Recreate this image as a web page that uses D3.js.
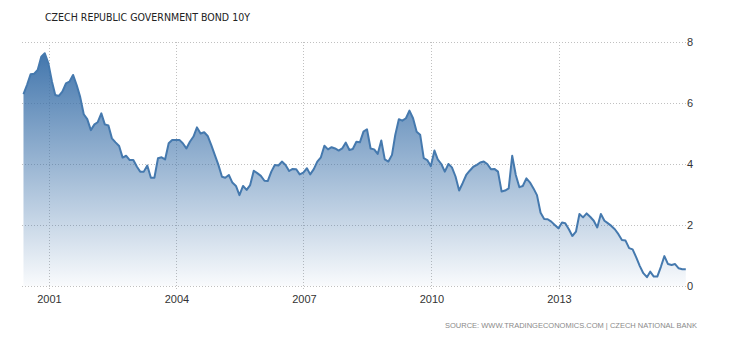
<!DOCTYPE html>
<html>
<head>
<meta charset="utf-8">
<script src="https://cdn.jsdelivr.net/npm/d3@7"></script>
<style>
  body { margin: 0; background: #fff; }
  svg { display: block; }
</style>
</head>
<body>
<div id="chart"></div>
<script>
// chart data (monthly, month end, May 2000 .. Dec 2015)
var title = "CZECH REPUBLIC GOVERNMENT BOND 10Y";
var source = "SOURCE: WWW.TRADINGECONOMICS.COM | CZECH NATIONAL BANK";
var firstMonth = [2000, 4]; // May 2000
var yields = [
  6.29, 6.59, 6.94, 6.96, 7.08, 7.52, 7.63, 7.30, 6.70, 6.26,
  6.23, 6.37, 6.64, 6.70, 6.92, 6.59, 6.20, 5.63, 5.47, 5.11,
  5.30, 5.37, 5.66, 5.30, 5.26, 4.84, 4.71, 4.59, 4.21, 4.27,
  4.13, 4.13, 3.91, 3.75, 3.75, 3.95, 3.55, 3.55, 4.19, 4.22,
  4.15, 4.68, 4.79, 4.79, 4.79, 4.68, 4.51, 4.73, 4.90, 5.20,
  5.00, 5.04, 4.92, 4.62, 4.30, 3.97, 3.58, 3.55, 3.64, 3.39,
  3.28, 2.98, 3.28, 3.15, 3.31, 3.78, 3.70, 3.61, 3.45, 3.44,
  3.75, 3.97, 3.95, 4.08, 3.97, 3.77, 3.84, 3.83, 3.66, 3.72,
  3.86, 3.66, 3.83, 4.08, 4.22, 4.60, 4.48, 4.55, 4.51, 4.44,
  4.51, 4.70, 4.46, 4.49, 4.73, 4.71, 5.06, 5.14, 4.51, 4.48,
  4.33, 4.77, 4.15, 4.08, 4.30, 4.95, 5.47, 5.42, 5.50, 5.75,
  5.50, 5.06, 4.96, 4.19, 4.13, 3.93, 4.44, 4.15, 4.00, 3.75,
  4.00, 3.89, 3.59, 3.13, 3.37, 3.64, 3.78, 3.91, 3.97, 4.05,
  4.08, 4.00, 3.83, 3.84, 3.75, 3.10, 3.13, 3.20, 4.27, 3.64,
  3.24, 3.28, 3.53, 3.40, 3.20, 2.98, 2.40, 2.20, 2.19, 2.11,
  2.00, 1.89, 2.08, 2.06, 1.86, 1.64, 1.78, 2.36, 2.25, 2.38,
  2.27, 2.14, 1.92, 2.36, 2.14, 2.06, 1.97, 1.86, 1.70, 1.51,
  1.49, 1.24, 1.20, 0.94, 0.66, 0.42, 0.29, 0.47, 0.31, 0.31,
  0.63, 0.98, 0.72, 0.69, 0.72, 0.58, 0.55, 0.55
];
var yTicks = [0, 2, 4, 6, 8];
var xTickYears = [2001, 2004, 2007, 2010, 2013];

var width = 730, height = 340;
var plotLeft = 22, plotRight = 686, plotTop = 42, plotBottom = 286;

var data = yields.map(function(v, i) {
  // last day of each month
  var d = d3.timeDay.offset(new Date(firstMonth[0], firstMonth[1] + i + 1, 1), -1);
  return { date: d, value: v };
});

var svg = d3.select('#chart').append('svg')
    .attr('width', width)
    .attr('height', height);

var x = d3.scaleTime()
    .domain([new Date(2001, 0, 1), new Date(2013, 0, 1)])
    .range([48.5, 558.5]);

var y = d3.scaleLinear()
    .domain([0, 8])
    .range([plotBottom, plotTop]);

var defs = svg.append('defs');
var grad = defs.append('linearGradient')
    .attr('id', 'fillGrad')
    .attr('gradientUnits', 'userSpaceOnUse')
    .attr('x1', 0).attr('y1', plotTop)
    .attr('x2', 0).attr('y2', plotBottom);
grad.append('stop').attr('offset', '0%').attr('stop-color', '#3a70a9').attr('stop-opacity', 1);
grad.append('stop').attr('offset', '100%').attr('stop-color', '#3a70a9').attr('stop-opacity', 0.03);

// horizontal grid
svg.append('g')
    .selectAll('line')
    .data(yTicks)
    .enter().append('line')
    .attr('x1', plotLeft).attr('x2', plotRight)
    .attr('y1', function(d) { return Math.round(y(d)) + 0.5; })
    .attr('y2', function(d) { return Math.round(y(d)) + 0.5; })
    .attr('stroke', '#c0c0c0')
    .attr('stroke-dasharray', '1,2');

// vertical grid
svg.append('g')
    .selectAll('line')
    .data(xTickYears)
    .enter().append('line')
    .attr('x1', function(d) { return Math.round(x(new Date(d, 0, 1))) + 0.5; })
    .attr('x2', function(d) { return Math.round(x(new Date(d, 0, 1))) + 0.5; })
    .attr('y1', plotTop).attr('y2', plotBottom + 5)
    .attr('stroke', '#c0c0c0')
    .attr('stroke-dasharray', '1,2');

var area = d3.area()
    .x(function(d) { return x(d.date); })
    .y0(y(0))
    .y1(function(d) { return y(d.value); });

var line = d3.line()
    .x(function(d) { return x(d.date); })
    .y(function(d) { return y(d.value); });

svg.append('path')
    .datum(data)
    .attr('d', area)
    .attr('fill', 'url(#fillGrad)');

svg.append('path')
    .datum(data)
    .attr('d', line)
    .attr('fill', 'none')
    .attr('stroke', '#4579ae')
    .attr('stroke-width', 2)
    .attr('stroke-linejoin', 'round');

// y labels on the right
svg.append('g')
    .selectAll('text')
    .data(yTicks)
    .enter().append('text')
    .attr('x', plotRight + 1)
    .attr('y', function(d) { return y(d) + 4; })
    .attr('font-family', 'Liberation Sans, Arial, sans-serif')
    .attr('font-size', 11)
    .attr('fill', '#333')
    .text(function(d) { return d; });

// x labels
svg.append('g')
    .selectAll('text')
    .data(xTickYears)
    .enter().append('text')
    .attr('x', function(d) { return x(new Date(d, 0, 1)) + 1; })
    .attr('y', 303)
    .attr('text-anchor', 'middle')
    .attr('font-family', 'Liberation Sans, Arial, sans-serif')
    .attr('font-size', 11)
    .attr('fill', '#333')
    .text(function(d) { return d; });

svg.append('text')
    .attr('x', 45)
    .attr('y', 21)
    .attr('font-family', 'DejaVu Sans, Verdana, sans-serif')
    .attr('font-size', 11)
    .attr('textLength', 205)
    .attr('lengthAdjust', 'spacingAndGlyphs')
    .attr('fill', '#222')
    .text(title);

svg.append('text')
    .attr('x', 697)
    .attr('y', 328)
    .attr('text-anchor', 'end')
    .attr('font-family', 'Liberation Sans, Arial, sans-serif')
    .attr('font-size', 7.5)
    .attr('fill', '#8a8a8a')
    .text(source);
</script>
</body>
</html>
